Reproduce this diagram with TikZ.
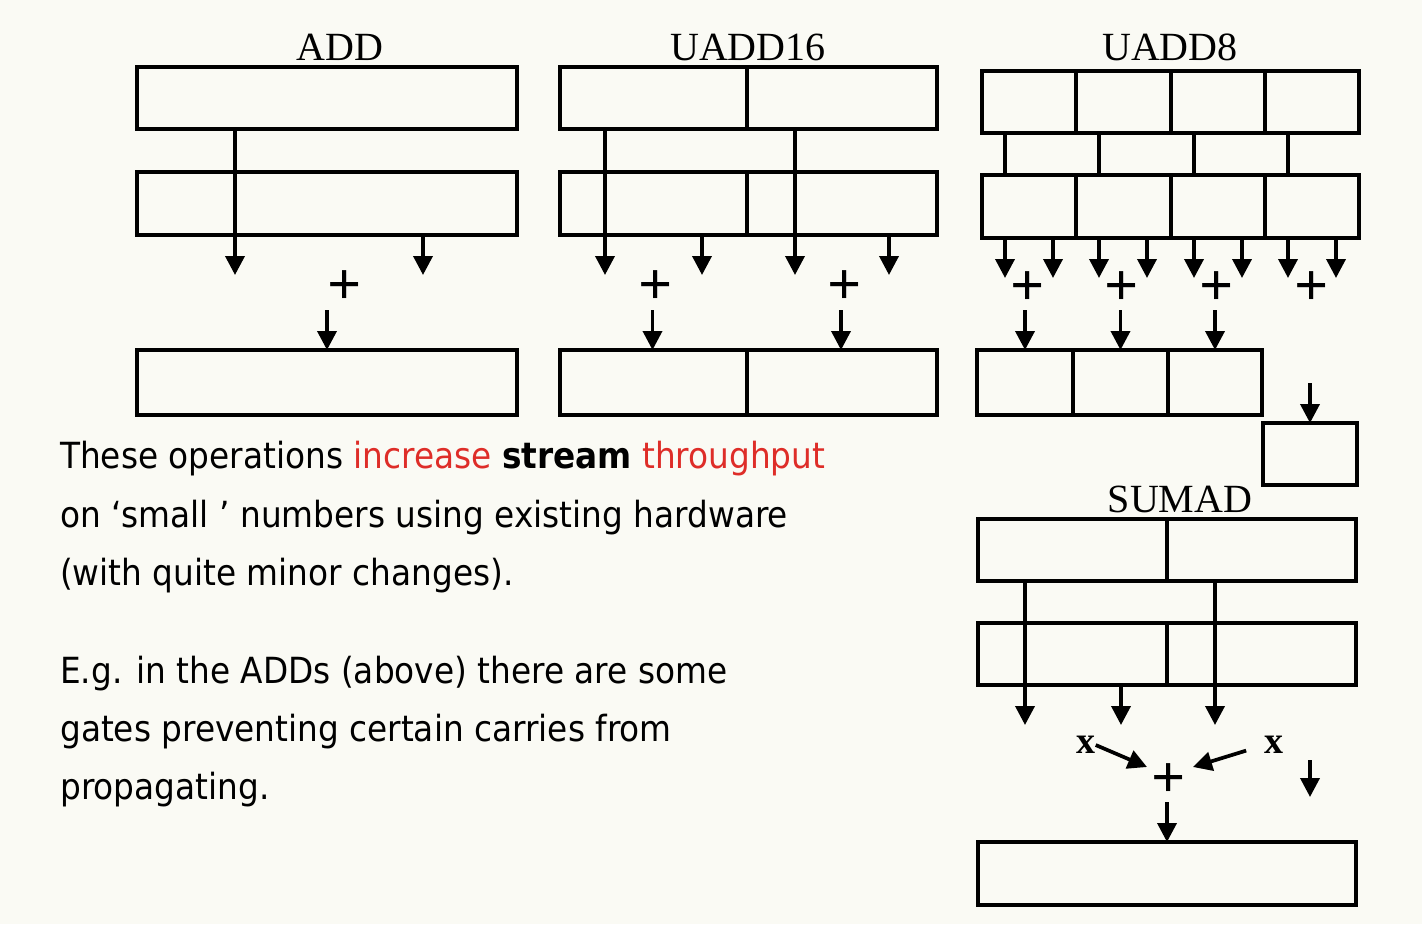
\documentclass[tikz,border=0pt]{standalone}
\usepackage{fontspec}
\setmainfont{Liberation Serif}
\newfontfamily\tfont[FakeStretch=0.91]{DejaVu Sans}
\usetikzlibrary{arrows.meta}
\definecolor{bg}{RGB}{250,250,244}
\definecolor{hl}{RGB}{222,45,40}
\begin{document}
\begin{tikzpicture}[x=1pt,y=-1pt,
  cell/.style={draw,line width=3.7pt,inner sep=0,outer sep=0,anchor=north west},
  arr/.style={line width=3.7pt,-{Triangle[width=19pt,length=19pt]}},
  wire/.style={line width=3.7pt},
  ttl/.style={font=\fontsize{40}{40}\selectfont,anchor=base,inner sep=0},
  plus/.style={font=\fontsize{60}{60}\selectfont\bfseries,inner sep=0},
  xl/.style={font=\fontsize{38}{38}\selectfont\bfseries,inner sep=0},
  txt/.style={font=\tfont\fontsize{36}{36}\selectfont,anchor=base west,inner sep=0}]
\fill[bg] (0,0) rectangle (1422,924);
% ---------- ADD ----------
\node[ttl] (tADD) at (340,60) {ADD};
\node[cell,minimum width=380pt,minimum height=62pt] (At) at (137,67) {};
\node[cell,minimum width=380pt,minimum height=63pt] (Am) at (137,172) {};
\node[cell,minimum width=380pt,minimum height=65pt] (Ab) at (137,350) {};
\draw[arr] ([xshift=98pt]At.south west) -- ([xshift=98pt,yshift=-40pt]Am.south west);
\draw[arr] ([xshift=286pt]Am.south west) -- ([xshift=286pt,yshift=-40pt]Am.south west);
\node[plus] (Ap) at (345,288) {+};
\draw[arr] ([yshift=40pt]Ab.north) -- (Ab.north);
% ---------- UADD16 ----------
\node[ttl] (tU16) at (748,60) {UADD16};
\node[cell,minimum width=187pt,minimum height=62pt] (Ut1) at (560,67) {};
\node[cell,minimum width=190pt,minimum height=62pt] (Ut2) at (747,67) {};
\node[cell,minimum width=187pt,minimum height=63pt] (Um1) at (560,172) {};
\node[cell,minimum width=190pt,minimum height=63pt] (Um2) at (747,172) {};
\node[cell,minimum width=187pt,minimum height=65pt] (Ub1) at (560,350) {};
\node[cell,minimum width=190pt,minimum height=65pt] (Ub2) at (747,350) {};
\draw[arr] ([xshift=45pt]Ut1.south west) -- ([xshift=45pt,yshift=-40pt]Um1.south west);
\draw[arr] ([xshift=142pt]Um1.south west) -- ([xshift=142pt,yshift=-40pt]Um1.south west);
\draw[arr] ([xshift=48pt]Ut2.south west) -- ([xshift=48pt,yshift=-40pt]Um2.south west);
\draw[arr] ([xshift=142pt]Um2.south west) -- ([xshift=142pt,yshift=-40pt]Um2.south west);
\node[plus] (Up1) at (656,288) {+};
\node[plus] (Up2) at (845,288) {+};
\draw[arr] ([xshift=-1pt,yshift=40pt]Ub1.north) -- ([xshift=-1pt]Ub1.north);
\draw[arr] ([xshift=-1pt,yshift=40pt]Ub2.north) -- ([xshift=-1pt]Ub2.north);
% ---------- UADD8 ----------
\node[ttl] (tU8) at (1170,60) {UADD8};
\foreach \i/\x/\w in {1/982/94,2/1076/95,3/1171/94,4/1265/94}{
  \node[cell,minimum width=\w pt,minimum height=62pt] (Et\i) at (\x,71) {};
  \node[cell,minimum width=\w pt,minimum height=63pt] (Em\i) at (\x,175) {};
}
\foreach \i in {1,2,3,4}{
  \draw[wire] ([xshift=23pt]Et\i.south west) -- ([xshift=23pt]Em\i.north west);
  \draw[arr] ([xshift=23pt]Em\i.south west) -- ([xshift=23pt,yshift=-40pt]Em\i.south west);
  \draw[arr] ([xshift=71pt]Em\i.south west) -- ([xshift=71pt,yshift=-40pt]Em\i.south west);
}
\foreach \i/\x in {1/1028,2/1122,3/1217,4/1312}{
  \node[plus] (Ep\i) at (\x,289) {+};
}
\foreach \i/\x/\w in {1/977/96,2/1073/95,3/1168/94}{
  \node[cell,minimum width=\w pt,minimum height=65pt] (Eb\i) at (\x,350) {};
  \draw[arr] ([yshift=40pt]Eb\i.north) -- (Eb\i.north);
}
\node[cell,minimum width=94pt,minimum height=62pt] (Es) at (1263,423) {};
\draw[arr] ([yshift=40pt]Es.north) -- (Es.north);
% ---------- SUMAD ----------
\node[ttl] (tSU) at (1180,512) {SUMAD};
\node[cell,minimum width=189pt,minimum height=62pt] (St1) at (978,519) {};
\node[cell,minimum width=189pt,minimum height=62pt] (St2) at (1167,519) {};
\node[cell,minimum width=189pt,minimum height=62pt] (Sm1) at (978,623) {};
\node[cell,minimum width=189pt,minimum height=62pt] (Sm2) at (1167,623) {};
\node[cell,minimum width=378pt,minimum height=63pt] (Sb) at (978,842) {};
\draw[arr] ([xshift=47pt]St1.south west) -- ([xshift=47pt,yshift=-40pt]Sm1.south west);
\draw[arr] ([xshift=143pt]Sm1.south west) -- ([xshift=143pt,yshift=-40pt]Sm1.south west);
\draw[arr] ([xshift=48pt]St2.south west) -- ([xshift=48pt,yshift=-40pt]Sm2.south west);
\node[xl] (Sx1) at (1086,745) {x};
\node[xl] (Sx2) at (1274,745) {x};
\node[plus] (Sp) at (1169,781) {+};
\draw[arr] (Sx1.east) -- ([shift={(-22pt,14pt)}]Sp.center);
\draw[arr,shorten <=19pt] (Sx2.west) -- ([shift={(24pt,14pt)}]Sp.center);
\draw[arr] ([yshift=40pt]Sb.north) -- (Sb.north);
\coordinate (Sc1) at (1310,760);
\coordinate (Sc2) at (1310,797);
\draw[arr] (Sc1) -- (Sc2);
% ---------- text ----------
\node[txt] (L1) at (60,468) {These operations {\color{hl}increase} {\bfseries stream} {\color{hl}throughput}};
\node[txt] (L2) at (60,527) {on ‘small ’ numbers using existing hardware};
\node[txt] (L3) at (60,585) {(with quite minor changes).};
\node[txt] (L4) at (60,683) {E.g. in the ADDs (above) there are some};
\node[txt] (L5) at (60,741) {gates preventing certain carries from};
\node[txt] (L6) at (60,799) {propagating.};
\end{tikzpicture}
\end{document}
